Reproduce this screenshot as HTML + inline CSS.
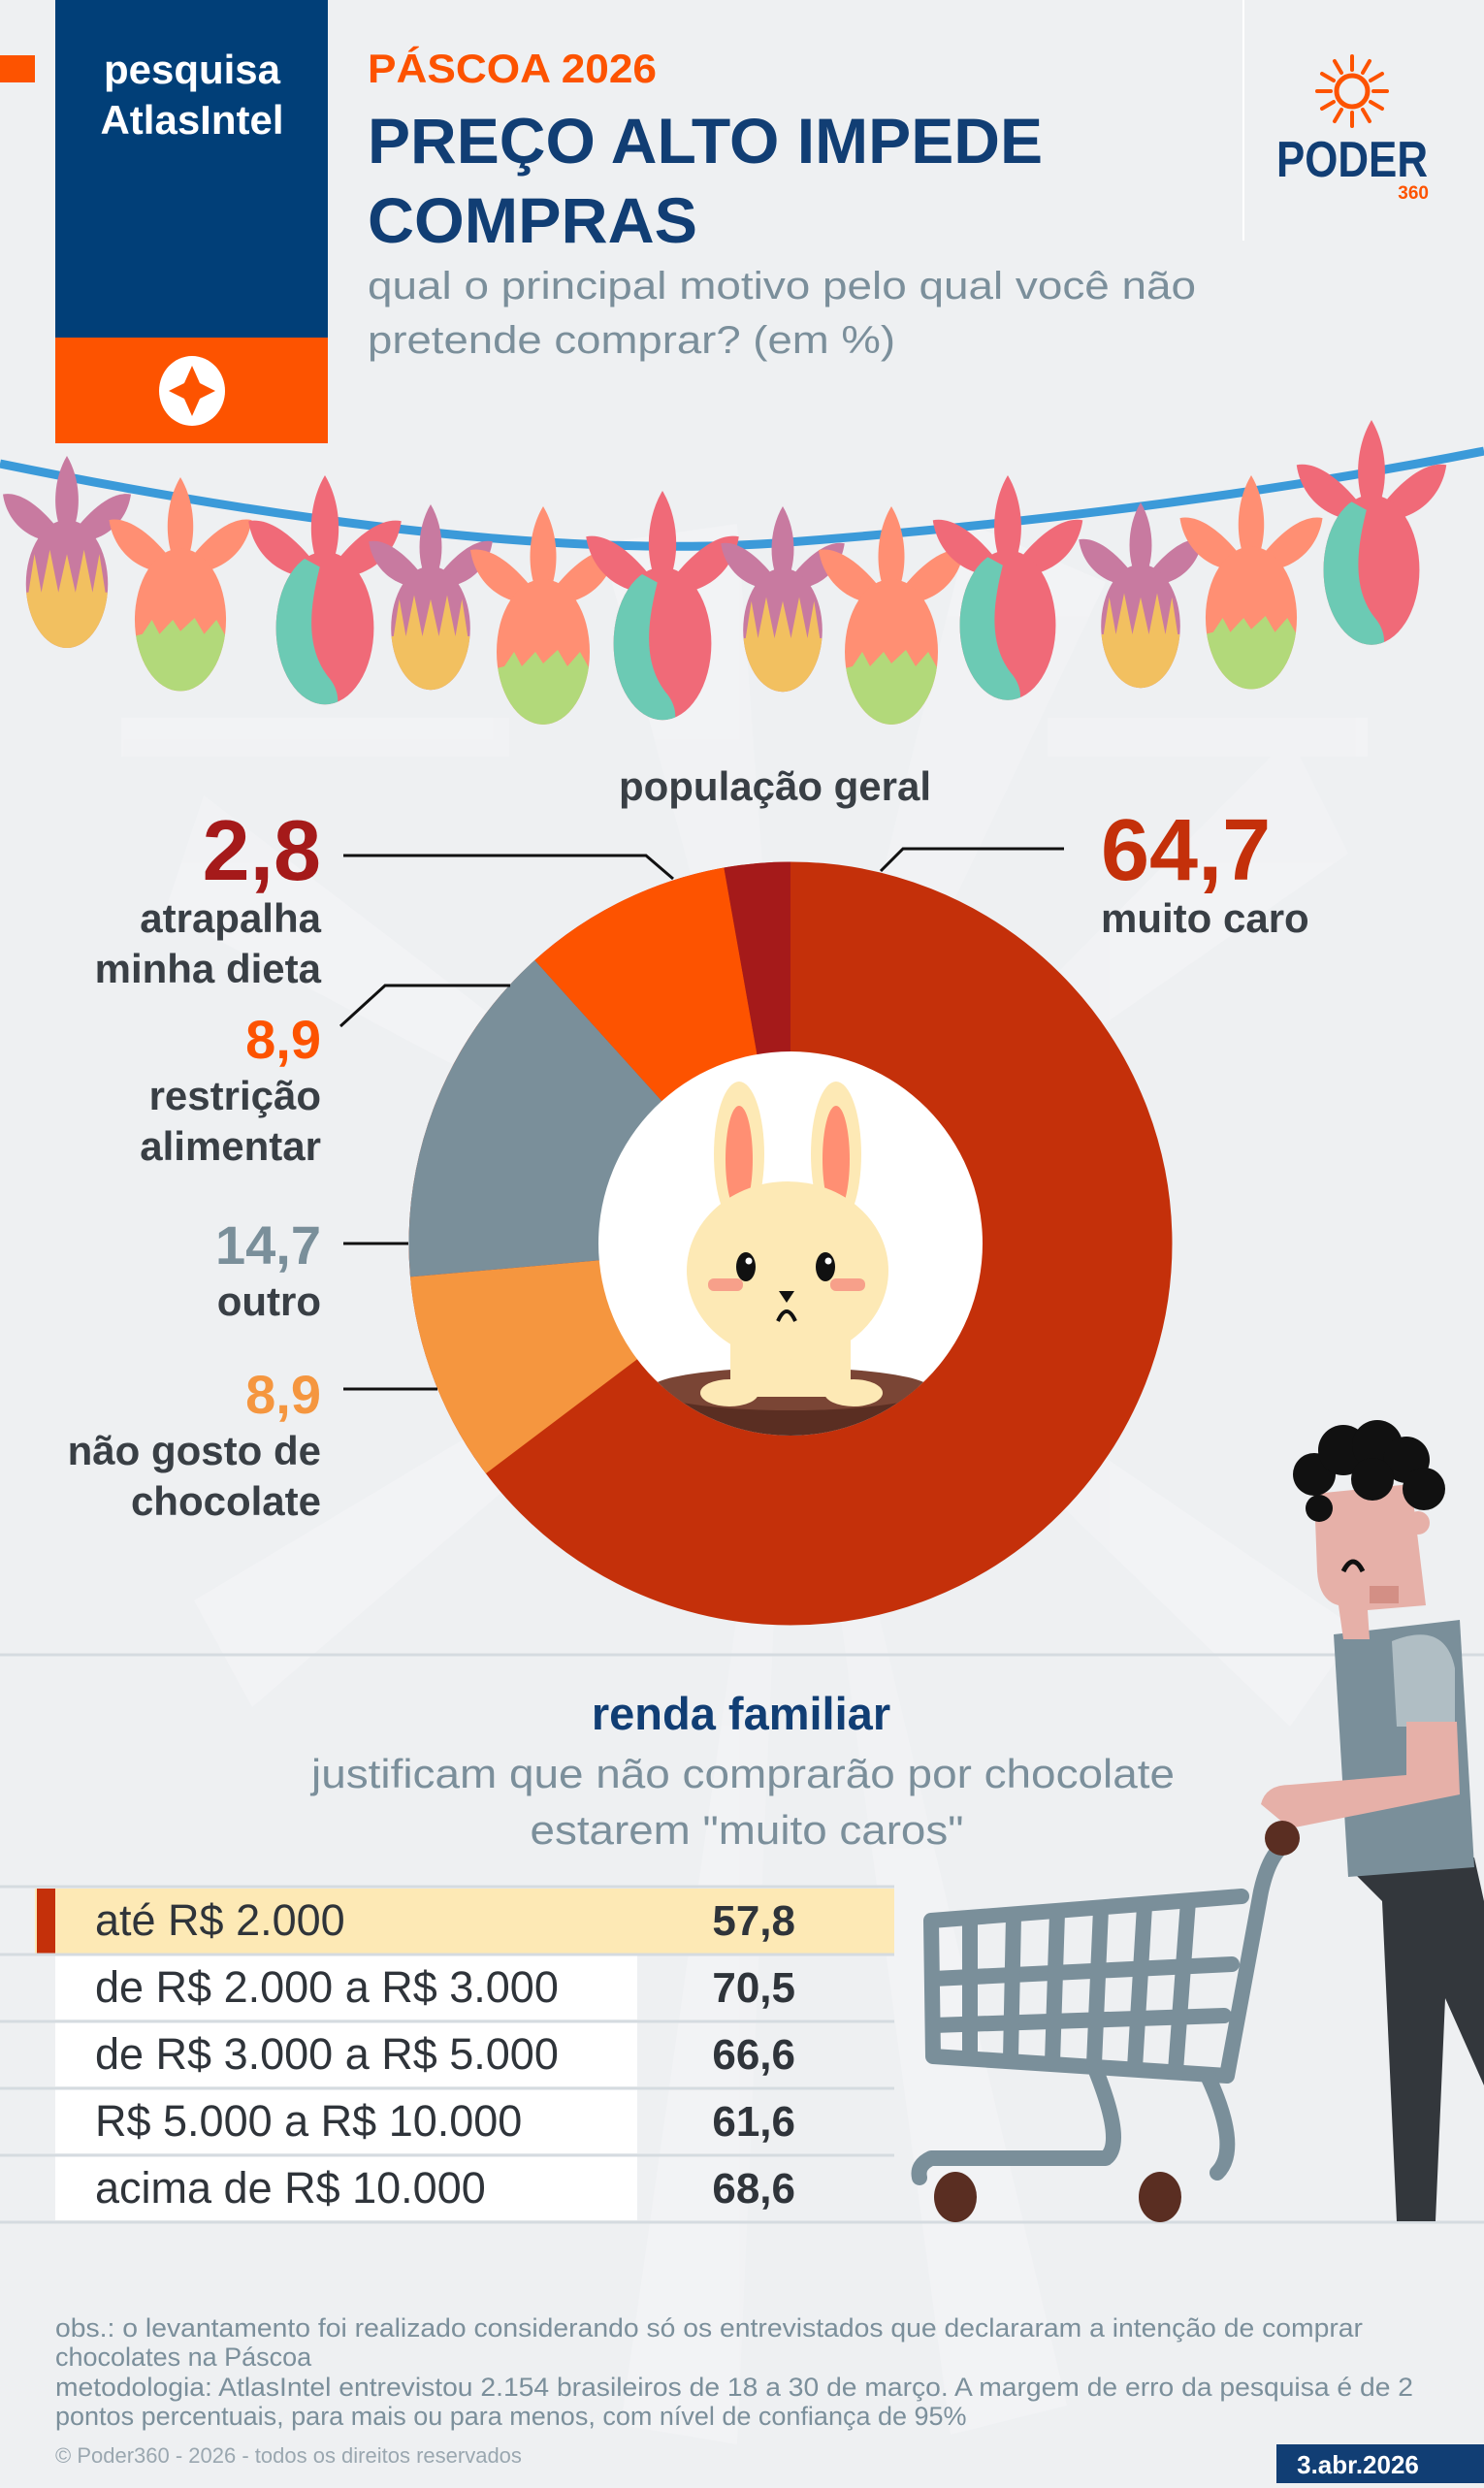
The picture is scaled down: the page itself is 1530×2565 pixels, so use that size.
<!DOCTYPE html>
<html><head><meta charset="utf-8">
<style>
html,body{margin:0;padding:0;}
body{width:1530px;height:2560px;overflow:hidden;background:#eef0f2;font-family:"Liberation Sans",sans-serif;}
svg text{font-family:"Liberation Sans",sans-serif;}
</style></head>
<body>
<svg width="1530" height="2560" viewBox="0 0 1530 2560" xmlns="http://www.w3.org/2000/svg">
<defs>
  <clipPath id="eggclip"><ellipse cx="0" cy="150" rx="48" ry="75"/></clipPath>
  <g id="petalsA">
    <path d="M0,0 C-18,30 -18,75 0,100 C18,75 18,30 0,0Z"/>
    <path d="M0,100 C-20,70 -50,40 -75,45 C-70,80 -40,105 0,100Z"/>
    <path d="M0,100 C20,70 50,40 75,45 C70,80 40,105 0,100Z"/>
  </g>
  <g id="eggA">
    <use href="#petalsA" fill="#c87aa0"/>
    <g clip-path="url(#eggclip)">
      <rect x="-60" y="60" width="120" height="180" fill="#c87aa0"/>
      <path d="M-60,160 L-45,160 L-38,115 L-30,160 L-20,110 L-10,160 L0,115 L10,160 L20,110 L30,160 L38,115 L45,160 L60,160 L60,240 L-60,240Z" fill="#f2c060"/>
    </g>
  </g>
  <g id="eggB">
    <use href="#petalsA" fill="#ff8f73"/>
    <g clip-path="url(#eggclip)">
      <rect x="-60" y="60" width="120" height="180" fill="#ff8f73"/>
      <path d="M-60,170 L-40,165 L-30,150 L-22,165 L-8,150 L0,162 L15,148 L25,165 L38,150 L48,168 L60,170 L60,240 L-60,240Z" fill="#b2d97a"/>
    </g>
  </g>
  <g id="eggC">
    <use href="#petalsA" fill="#f06a78"/>
    <g clip-path="url(#eggclip)">
      <rect x="-60" y="60" width="120" height="180" fill="#f06a78"/>
      <path d="M-60,60 L-5,90 C-15,130 -20,170 5,200 C20,220 10,240 0,240 L-60,240Z" fill="#6ccab4"/>
    </g>
  </g>
</defs>

<!-- background rays -->
<g fill="#f3f4f6" opacity="0.7">
  <polygon points="815,1282 620,560 760,540"/>
  <polygon points="815,1282 1000,540 1140,600"/>
  <polygon points="815,1282 1330,760 1390,880"/>
  <polygon points="815,1282 210,820 170,940"/>
  <polygon points="815,1282 200,1650 260,1760"/>
  <polygon points="815,1282 1400,1680 1330,1780"/>
  <polygon points="815,1282 640,2500 760,2520"/>
  <polygon points="815,1282 1100,2480 980,2510"/>
  <rect x="125" y="740" width="400" height="40"/>
  <rect x="1080" y="740" width="330" height="40"/>
</g>

<!-- header -->
<rect x="0" y="57" width="36" height="28" fill="#fd5300"/>
<rect x="57" y="0" width="281" height="348" fill="#013f78"/>
<rect x="57" y="348" width="281" height="109" fill="#fd5300"/>
<text x="198" y="86" font-size="42" font-weight="bold" fill="#fff" text-anchor="middle">pesquisa</text>
<text x="198" y="138" font-size="42" font-weight="bold" fill="#fff" text-anchor="middle">AtlasIntel</text>
<ellipse cx="198" cy="403" rx="34" ry="36" fill="#fff"/>
<path d="M198,377 L206,395 L222,403 L206,411 L198,429 L190,411 L174,403 L190,395Z" fill="#fd5300"/>

<text x="379" y="85" font-size="42" font-weight="bold" fill="#fd5300" textLength="298" lengthAdjust="spacingAndGlyphs">PÁSCOA 2026</text>
<text x="379" y="168" font-size="66" font-weight="bold" fill="#113e74" textLength="696" lengthAdjust="spacingAndGlyphs">PREÇO ALTO IMPEDE</text>
<text x="379" y="250" font-size="66" font-weight="bold" fill="#113e74" textLength="340" lengthAdjust="spacingAndGlyphs">COMPRAS</text>
<text x="379" y="308" font-size="40" fill="#7b8f9b" textLength="854" lengthAdjust="spacingAndGlyphs">qual o principal motivo pelo qual você não</text>
<text x="379" y="364" font-size="40" fill="#7b8f9b" textLength="544" lengthAdjust="spacingAndGlyphs">pretende comprar? (em %)</text>

<line x1="1282" y1="0" x2="1282" y2="248" stroke="#fff" stroke-width="2"/>
<g transform="translate(1394,94)" stroke="#fd5300" stroke-width="4" stroke-linecap="round">
  <circle r="16" fill="none" stroke-width="5"/>
  <line x1="22" y1="0" x2="36" y2="0"/><line x1="19" y1="11" x2="31" y2="18"/><line x1="11" y1="19" x2="18" y2="31"/>
  <line x1="0" y1="22" x2="0" y2="36"/><line x1="-11" y1="19" x2="-18" y2="31"/><line x1="-19" y1="11" x2="-31" y2="18"/>
  <line x1="-22" y1="0" x2="-36" y2="0"/><line x1="-19" y1="-11" x2="-31" y2="-18"/><line x1="-11" y1="-19" x2="-18" y2="-31"/>
  <line x1="0" y1="-22" x2="0" y2="-36"/><line x1="11" y1="-19" x2="18" y2="-31"/><line x1="19" y1="-11" x2="31" y2="-18"/>
</g>
<text x="1394" y="182" font-size="52" font-weight="bold" fill="#113e74" text-anchor="middle" textLength="156" lengthAdjust="spacingAndGlyphs">PODER</text>
<text x="1473" y="205" font-size="19" font-weight="bold" fill="#fd5300" text-anchor="end">360</text>

<!-- bunting string -->
<path d="M0,478 Q500,580 800,560 Q1200,530 1530,465" fill="none" stroke="#3b9ad9" stroke-width="9"/>

<!-- eggs -->
<use href="#eggA" transform="translate(69,470) scale(0.88)"/>
<use href="#eggB" transform="translate(186,492) scale(0.98)"/>
<use href="#eggC" transform="translate(335,490) scale(1.05)"/>
<use href="#eggA" transform="translate(444,520) scale(0.85)"/>
<use href="#eggB" transform="translate(560,522) scale(1.0)"/>
<use href="#eggC" transform="translate(683,506) scale(1.05)"/>
<use href="#eggA" transform="translate(807,522) scale(0.85)"/>
<use href="#eggB" transform="translate(919,522) scale(1.0)"/>
<use href="#eggC" transform="translate(1039,490) scale(1.03)"/>
<use href="#eggA" transform="translate(1176,518) scale(0.85)"/>
<use href="#eggB" transform="translate(1290,490) scale(0.98)"/>
<use href="#eggC" transform="translate(1414,433) scale(1.03)"/>

<!-- donut -->
<g transform="rotate(-90 815 1282)" fill="none" stroke-width="196">
  <circle cx="815" cy="1282" r="295.5" stroke="#c4300a"/>
  <circle cx="815" cy="1282" r="295.5" stroke="#f5963f" stroke-dasharray="165.2 4000" stroke-dashoffset="-1201.3"/>
  <circle cx="815" cy="1282" r="295.5" stroke="#7a8f9a" stroke-dasharray="273 4000" stroke-dashoffset="-1366.5"/>
  <circle cx="815" cy="1282" r="295.5" stroke="#fd5300" stroke-dasharray="165.2 4000" stroke-dashoffset="-1639.5"/>
  <circle cx="815" cy="1282" r="295.5" stroke="#a51a1a" stroke-dasharray="52 4000" stroke-dashoffset="-1804.7"/>
</g>
<circle cx="815" cy="1282" r="198" fill="#fff"/>

<!-- bunny -->
<clipPath id="inner"><circle cx="815" cy="1282" r="198"/></clipPath>
<g clip-path="url(#inner)">
  <path d="M670,1432 Q815,1405 960,1432 L960,1490 L670,1490Z" fill="#5a2e22"/>
  <ellipse cx="815" cy="1432" rx="145" ry="22" fill="#7a4535"/>
</g>
<ellipse cx="762" cy="1190" rx="26" ry="75" fill="#fde9b5"/>
<ellipse cx="862" cy="1190" rx="26" ry="75" fill="#fde9b5"/>
<ellipse cx="762" cy="1195" rx="14" ry="55" fill="#ff8f73"/>
<ellipse cx="862" cy="1195" rx="14" ry="55" fill="#ff8f73"/>
<rect x="753" y="1340" width="124" height="100" fill="#fde9b5"/>
<ellipse cx="812" cy="1310" rx="104" ry="92" fill="#fde9b5"/>
<ellipse cx="752" cy="1436" rx="30" ry="14" fill="#fde9b5"/>
<ellipse cx="880" cy="1436" rx="30" ry="14" fill="#fde9b5"/>
<ellipse cx="769" cy="1306" rx="10" ry="15" fill="#111"/>
<ellipse cx="851" cy="1306" rx="10" ry="15" fill="#111"/>
<circle cx="772" cy="1300" r="3.5" fill="#fff"/><circle cx="854" cy="1300" r="3.5" fill="#fff"/>
<rect x="730" y="1318" width="36" height="13" rx="6" fill="#f7a08a"/>
<rect x="856" y="1318" width="36" height="13" rx="6" fill="#f7a08a"/>
<path d="M803,1331 L819,1331 L811,1343Z" fill="#111"/>
<path d="M802,1362 Q811,1342 820,1362" fill="none" stroke="#111" stroke-width="4"/>

<!-- leader lines -->
<g fill="none" stroke="#111" stroke-width="3">
  <polyline points="354,882 666,882 694,906"/>
  <polyline points="1097,875 931,875 908,898"/>
  <polyline points="351,1058 397,1016 526,1016"/>
  <line x1="354" y1="1282" x2="421" y2="1282"/>
  <line x1="354" y1="1432" x2="451" y2="1432"/>
</g>

<!-- donut labels -->
<text x="799" y="825" font-size="42" font-weight="bold" fill="#393f45" text-anchor="middle">população geral</text>
<text x="331" y="907" font-size="88" font-weight="bold" fill="#a51a1a" text-anchor="end">2,8</text>
<g font-size="42" font-weight="bold" fill="#393f45" text-anchor="end">
<text x="331" y="961">atrapalha</text>
<text x="331" y="1013">minha dieta</text>
<text x="331" y="1144">restrição</text>
<text x="331" y="1196">alimentar</text>
<text x="331" y="1356">outro</text>
<text x="331" y="1510">não gosto de</text>
<text x="331" y="1562">chocolate</text>
</g>
<text x="331" y="1091" font-size="56" font-weight="bold" fill="#fd5300" text-anchor="end">8,9</text>
<text x="331" y="1303" font-size="56" font-weight="bold" fill="#7a8f9a" text-anchor="end">14,7</text>
<text x="331" y="1457" font-size="56" font-weight="bold" fill="#f5963f" text-anchor="end">8,9</text>
<text x="1135" y="907" font-size="90" font-weight="bold" fill="#c4300a">64,7</text>
<text x="1135" y="961" font-size="42" font-weight="bold" fill="#393f45">muito caro</text>

<line x1="0" y1="1706" x2="1530" y2="1706" stroke="#d5dbe0" stroke-width="3"/>

<!-- renda familiar -->
<text x="764" y="1783" font-size="47" font-weight="bold" fill="#113e74" text-anchor="middle">renda familiar</text>
<text x="766" y="1843" font-size="42" fill="#7b8f9b" text-anchor="middle" textLength="890" lengthAdjust="spacingAndGlyphs">justificam que não comprarão por chocolate</text>
<text x="770" y="1901" font-size="42" fill="#7b8f9b" text-anchor="middle" textLength="447" lengthAdjust="spacingAndGlyphs">estarem "muito caros"</text>

<!-- table -->
<line x1="0" y1="1945" x2="922" y2="1945" stroke="#d5dbe0" stroke-width="3"/>
<rect x="36" y="1947" width="886" height="67" fill="#fde9b5"/>
<rect x="38" y="1947" width="19" height="67" fill="#c4300a"/>
<rect x="57" y="2016" width="600" height="66" fill="#fff"/>
<rect x="57" y="2085" width="600" height="66" fill="#fff"/>
<rect x="57" y="2154" width="600" height="66" fill="#fff"/>
<rect x="57" y="2223" width="600" height="66" fill="#fff"/>
<g stroke="#d5dbe0" stroke-width="3">
  <line x1="0" y1="2015" x2="922" y2="2015"/>
  <line x1="0" y1="2084" x2="922" y2="2084"/>
  <line x1="0" y1="2153" x2="922" y2="2153"/>
  <line x1="0" y1="2222" x2="922" y2="2222"/>
  <line x1="0" y1="2291" x2="1530" y2="2291"/>
</g>
<g font-size="45" fill="#2f343a">
  <text x="98" y="1995">até R$ 2.000</text>
  <text x="98" y="2064">de R$ 2.000 a R$ 3.000</text>
  <text x="98" y="2133">de R$ 3.000 a R$ 5.000</text>
  <text x="98" y="2202">R$ 5.000 a R$ 10.000</text>
  <text x="98" y="2271">acima de R$ 10.000</text>
</g>
<g font-size="44" font-weight="bold" fill="#2f343a" text-anchor="end">
  <text x="820" y="1995">57,8</text>
  <text x="820" y="2064">70,5</text>
  <text x="820" y="2133">66,6</text>
  <text x="820" y="2202">61,6</text>
  <text x="820" y="2271">68,6</text>
</g>

<!-- cart -->
<g fill="none" stroke="#7a8f9a" stroke-width="16" stroke-linejoin="round" stroke-linecap="round">
  <path d="M1330,1900 Q1310,1905 1300,1950 L1265,2140 L962,2120 L960,1980 L1280,1955"/>
  <line x1="962" y1="2040" x2="1270" y2="2025"/>
  <line x1="962" y1="2088" x2="1262" y2="2078"/>
  <line x1="1000" y1="1978" x2="1000" y2="2120"/><line x1="1045" y1="1975" x2="1042" y2="2122"/>
  <line x1="1090" y1="1972" x2="1085" y2="2126"/><line x1="1135" y1="1968" x2="1128" y2="2128"/>
  <line x1="1180" y1="1965" x2="1170" y2="2132"/><line x1="1225" y1="1960" x2="1212" y2="2135"/>
  <path d="M1130,2135 Q1160,2210 1140,2225 L960,2225 Q945,2232 948,2245"/>
  <path d="M1245,2140 Q1280,2215 1255,2240"/>
</g>
<ellipse cx="985" cy="2265" rx="22" ry="26" fill="#5a2e22"/>
<ellipse cx="1196" cy="2265" rx="22" ry="26" fill="#5a2e22"/>

<!-- man -->
<path d="M1390,1925 L1520,1915 L1530,1960 L1530,2150 L1490,2060 L1480,2290 L1440,2290 L1425,1960Z" fill="#33373c"/>
<path d="M1375,1685 L1505,1670 L1520,1925 L1390,1935Z" fill="#7a8f9a"/>
<path d="M1435,1692 Q1490,1670 1500,1720 L1500,1780 L1440,1780Z" fill="#b0bec4"/>
<path d="M1450,1775 L1502,1775 L1505,1850 L1330,1885 L1300,1860 Q1305,1840 1330,1840 L1450,1830Z" fill="#e6b0a8"/>
<circle cx="1322" cy="1895" r="18" fill="#5a2e22"/>
<path d="M1355,1540 L1455,1530 L1470,1655 L1410,1660 L1412,1690 L1385,1690 L1380,1655 Q1360,1650 1358,1620Z" fill="#e6b0a8"/>
<rect x="1412" y="1635" width="30" height="18" fill="#d38f85"/>
<path d="M1385,1620 Q1395,1600 1405,1620" fill="none" stroke="#111" stroke-width="5"/>
<g fill="#111">
  <circle cx="1355" cy="1520" r="22"/><circle cx="1385" cy="1495" r="26"/><circle cx="1420" cy="1490" r="26"/>
  <circle cx="1450" cy="1505" r="24"/><circle cx="1468" cy="1535" r="22"/><circle cx="1360" cy="1555" r="14"/>
  <circle cx="1415" cy="1525" r="22"/>
</g>
<circle cx="1462" cy="1570" r="12" fill="#e6b0a8"/>

<!-- footer -->
<g font-size="27" fill="#7b8f9b">
  <text x="57" y="2409" textLength="1348" lengthAdjust="spacingAndGlyphs">obs.: o levantamento foi realizado considerando só os entrevistados que declararam a intenção de comprar</text>
  <text x="57" y="2439">chocolates na Páscoa</text>
  <text x="57" y="2470" textLength="1400" lengthAdjust="spacingAndGlyphs">metodologia: AtlasIntel entrevistou 2.154 brasileiros de 18 a 30 de março. A margem de erro da pesquisa é de 2</text>
  <text x="57" y="2500">pontos percentuais, para mais ou para menos, com nível de confiança de 95%</text>
</g>
<text x="57" y="2539" font-size="22" fill="#9aa7b0">© Poder360 - 2026 - todos os direitos reservados</text>
<rect x="1316" y="2520" width="214" height="40" fill="#113e74"/>
<text x="1400" y="2550" font-size="26" font-weight="bold" fill="#fff" text-anchor="middle">3.abr.2026</text>
</svg>
</body></html>
